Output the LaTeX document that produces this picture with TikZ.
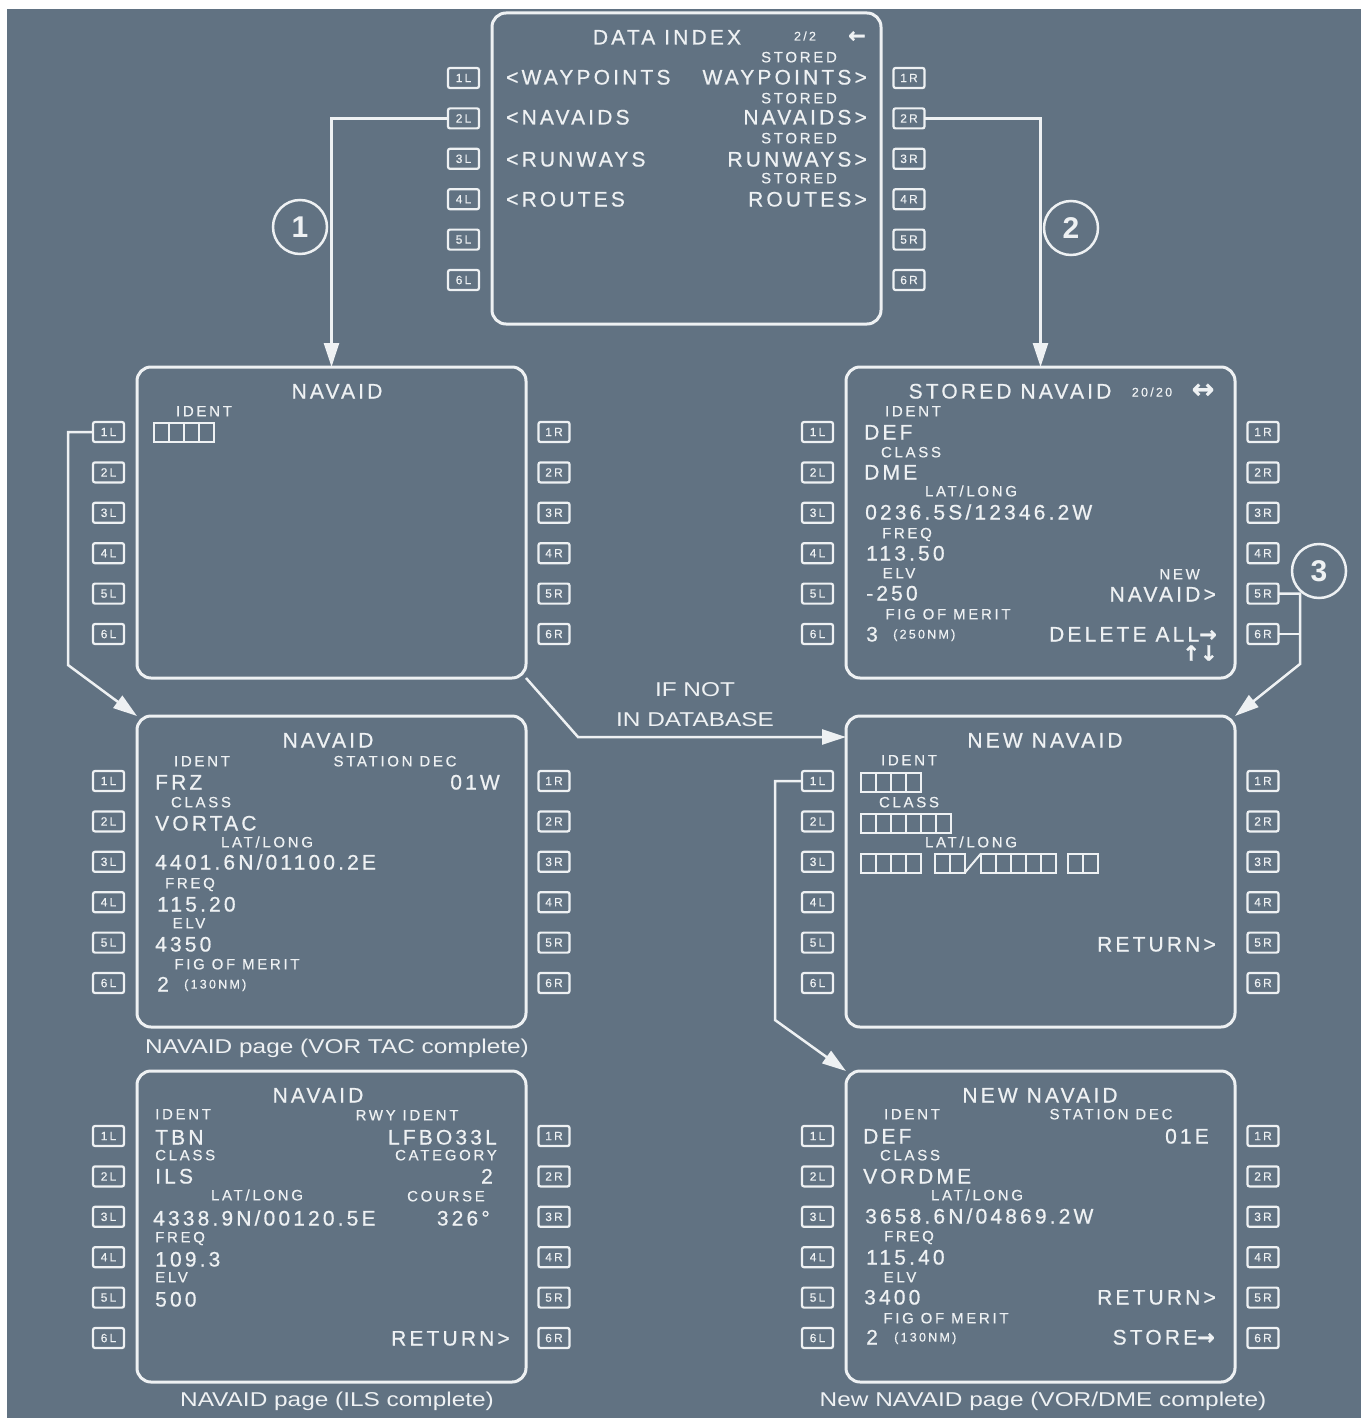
\documentclass[tikz,border=0pt]{standalone}
\usepackage{fontspec}
\usetikzlibrary{arrows.meta,calc}
\setmainfont{Liberation Sans}
\newfontfamily\cdufont[LetterSpace=15,FakeBold=0.6]{Liberation Sans}
\newfontfamily\smlfont[LetterSpace=18,FakeBold=0.5]{Liberation Sans}
\newfontfamily\capfont[FakeStretch=1.22]{Liberation Sans}
\newfontfamily\arrfont[FakeBold=1]{DejaVu Sans}
\newcommand\cdubig{\cdufont\fontsize{21}{23}\selectfont}
\newcommand\cdusml{\smlfont\fontsize{15}{17}\selectfont}
\newcommand\cdutny{\smlfont\fontsize{12.5}{14}\selectfont}
\newcommand\arr{\arrfont\bfseries\fontsize{21}{21}\selectfont}
\definecolor{bg}{HTML}{617282}
\definecolor{fg}{HTML}{EEF1F3}
\tikzset{
 screen/.style={draw=fg, line width=3pt, rounded corners=14pt, minimum width=389pt, minimum height=311pt, inner sep=0pt, outer sep=0pt},
 lsk/.style={draw=fg, line width=2.2pt, rounded corners=2pt, minimum width=31pt, minimum height=20pt, inner sep=0pt, outer sep=0pt, font=\smlfont\fontsize{12}{12}\selectfont, text=fg},
 big/.style={font=\cdubig, text=fg, inner sep=0pt, text height=15pt, text depth=0pt},
 sml/.style={font=\cdusml, text=fg, inner sep=0pt, text height=10.7pt, text depth=0pt},
 tny/.style={font=\cdutny, text=fg, inner sep=0pt, text height=9pt, text depth=0pt},
 arrw/.style={font=\arr, text=fg, inner sep=0pt},
 capt/.style={font=\capfont\fontsize{20}{22}\selectfont, text=fg, inner sep=0pt},
 conn/.style={draw=fg, line width=2.5pt, -{Triangle[length=24pt,width=15pt]}},
 link/.style={draw=fg, line width=2.5pt},
 cell/.style={draw=fg, line width=2pt},
 num/.style={circle, draw=fg, line width=2.5pt, minimum size=54pt, inner sep=0pt, text=fg, font=\bfseries\fontsize{30}{30}\selectfont},
}
\newcommand\cdubox[3]{%
 \node[screen] (#1) at (#2+194.5,#3+155.5) {};
 \foreach \k in {1,...,6}{%
   \node[lsk] (#1-L\k) at (#2-28.5,#3+65+40.4*\k-40.4) {\k L};
   \node[lsk] (#1-R\k) at (#2+417,#3+65+40.4*\k-40.4) {\k R};
 }}
\newcommand\cells[3]{%
 \foreach \j in {1,...,#3}{\draw[cell] (#1+15*\j-15,#2-9.5) rectangle ++(15,19);}}
\begin{document}
\begin{tikzpicture}[x=1pt,y=-1pt]
\path[use as bounding box] (0,0) rectangle (1361,1418);
\fill[white] (0,0) rectangle (1361,1418);
\fill[bg] (7,9) rectangle (1361,1418);

\cdubox{DI}{492}{13}
\cdubox{NV}{137}{367}
\cdubox{SN}{846}{367}
\cdubox{VT}{137}{716}
\cdubox{NN}{846}{716}
\cdubox{IL}{137}{1071}
\cdubox{NC}{846}{1071}

% DATA INDEX
\node[big] (di-t) at (667,37) {DATA INDEX};
\node[tny] (di-p) at (805,36) {2/2};
\node[arrw] (di-a) at (857,37) {←};
\node[sml] (di-s1) at (799,57) {STORED};
\node[sml] (di-s2) at (799,98) {STORED};
\node[sml] (di-s3) at (799,138) {STORED};
\node[sml] (di-s4) at (799,178) {STORED};
\node[big, anchor=west] (di-l1) at (506,77) {<WAYPOINTS};
\node[big, anchor=west] (di-l2) at (506,117) {<NAVAIDS};
\node[big, anchor=west] (di-l3) at (506,159) {<RUNWAYS};
\node[big, anchor=west] (di-l4) at (506,199) {<ROUTES};
\node[big, anchor=east] (di-r1) at (867,77) {WAYPOINTS>};
\node[big, anchor=east] (di-r2) at (867,117) {NAVAIDS>};
\node[big, anchor=east] (di-r3) at (867,159) {RUNWAYS>};
\node[big, anchor=east] (di-r4) at (867,199) {ROUTES>};

% NAVAID empty
\node[big] (nv-t) at (337,391) {NAVAID};
\node[sml] (nv-i) at (204,411) {IDENT};
\cells{154}{432}{4}

% STORED NAVAID
\node[big] (sn-t) at (1010,391) {STORED NAVAID};
\node[tny] (sn-p) at (1152,392) {20/20};
\node[arrw, font=\arrfont\bfseries\fontsize{27}{27}\selectfont] (sn-a) at (1203,391) {↔};
\node[sml] (sn-1) at (913,411) {IDENT};
\node[big, anchor=west] (sn-2) at (864,432) {DEF};
\node[sml] (sn-3) at (911,452) {CLASS};
\node[big, anchor=west] (sn-4) at (864,472) {DME};
\node[sml] (sn-5) at (971,491) {LAT/LONG};
\node[big, anchor=west] (sn-6) at (865,512) {0236.5S/12346.2W};
\node[sml] (sn-7) at (907,533) {FREQ};
\node[big, anchor=west] (sn-8) at (866,553) {113.50};
\node[sml] (sn-9) at (899,573) {ELV};
\node[big, anchor=west] (sn-10) at (866,593) {-250};
\node[sml, anchor=east] (sn-11) at (1200,574) {NEW};
\node[big, anchor=east] (sn-12) at (1216,594) {NAVAID>};
\node[sml] (sn-13) at (948,614) {FIG OF MERIT};
\node[big, anchor=west] (sn-14) at (866,634) {3};
\node[tny, anchor=west] (sn-15) at (893,634) {(250NM)};
\node[big, anchor=east] (sn-16) at (1217,634) {DELETE ALL{\arr →}};
\node[arrw] (sn-17) at (1200,653) {↑↓};

% NAVAID VORTAC
\node[big] (vt-t) at (328,740) {NAVAID};
\node[sml] (vt-1) at (202,761) {IDENT};
\node[sml] (vt-2) at (395,761) {STATION DEC};
\node[big, anchor=west] (vt-3) at (155,782) {FRZ};
\node[big, anchor=east] (vt-4) at (500,782) {01W};
\node[sml] (vt-5) at (201,802) {CLASS};
\node[big, anchor=west] (vt-6) at (155,823) {VORTAC};
\node[sml] (vt-7) at (267,842) {LAT/LONG};
\node[big, anchor=west] (vt-8) at (155,862) {4401.6N/01100.2E};
\node[sml] (vt-9) at (190,883) {FREQ};
\node[big, anchor=west] (vt-10) at (157,904) {115.20};
\node[sml] (vt-11) at (189,923) {ELV};
\node[big, anchor=west] (vt-12) at (155,944) {4350};
\node[sml] (vt-13) at (237,964) {FIG OF MERIT};
\node[big, anchor=west] (vt-14) at (157,984) {2};
\node[tny, anchor=west] (vt-15) at (184,984) {(130NM)};
\node[capt] (vt-c) at (337,1048) {NAVAID page (VOR TAC complete)};

% NEW NAVAID empty
\node[big] (nn-t) at (1045,740) {NEW NAVAID};
\node[sml] (nn-1) at (909,760) {IDENT};
\cells{861}{782}{4}
\node[sml] (nn-2) at (909,802) {CLASS};
\cells{861}{823}{6}
\node[sml] (nn-3) at (971,842) {LAT/LONG};
\cells{861}{863}{4}
\cells{935}{863}{2}
\draw[cell] (965,872.5) -- (981,853.5);
\cells{981}{863}{5}
\cells{1068}{863}{2}
\node[big, anchor=east] (nn-4) at (1216,944) {RETURN>};

% NAVAID ILS
\node[big] (il-t) at (318,1095) {NAVAID};
\node[sml, anchor=west] (il-1) at (155,1114) {IDENT};
\node[sml] (il-2) at (407,1115) {RWY IDENT};
\node[big, anchor=west] (il-3) at (155,1137) {TBN};
\node[big, anchor=east] (il-4) at (497,1137) {LFBO33L};
\node[sml, anchor=west] (il-5) at (155,1155) {CLASS};
\node[sml, anchor=east] (il-6) at (497,1155) {CATEGORY};
\node[big, anchor=west] (il-7) at (155,1176) {ILS};
\node[big, anchor=east] (il-8) at (493,1176) {2};
\node[sml] (il-9) at (257,1195) {LAT/LONG};
\node[sml] (il-10) at (446,1196) {COURSE};
\node[big, anchor=west] (il-11) at (153,1218) {4338.9N/00120.5E};
\node[big, anchor=east] (il-12) at (490,1218) {326°};
\node[sml, anchor=west] (il-13) at (155,1237) {FREQ};
\node[big, anchor=west] (il-14) at (155,1259) {109.3};
\node[sml, anchor=west] (il-15) at (155,1277) {ELV};
\node[big, anchor=west] (il-16) at (155,1299) {500};
\node[big, anchor=east] (il-17) at (510,1338) {RETURN>};
\node[capt] (il-c) at (337,1401) {NAVAID page (ILS complete)};

% NEW NAVAID complete
\node[big] (nc-t) at (1040,1095) {NEW NAVAID};
\node[sml] (nc-1) at (912,1114) {IDENT};
\node[sml] (nc-2) at (1111,1114) {STATION DEC};
\node[big, anchor=west] (nc-3) at (863,1136) {DEF};
\node[big, anchor=east] (nc-4) at (1209,1136) {01E};
\node[sml] (nc-5) at (910,1155) {CLASS};
\node[big, anchor=west] (nc-6) at (863,1176) {VORDME};
\node[sml] (nc-7) at (977,1195) {LAT/LONG};
\node[big, anchor=west] (nc-8) at (865,1216) {3658.6N/04869.2W};
\node[sml] (nc-9) at (909,1236) {FREQ};
\node[big, anchor=west] (nc-10) at (866,1257) {115.40};
\node[sml] (nc-11) at (900,1277) {ELV};
\node[big, anchor=west] (nc-12) at (864,1297) {3400};
\node[big, anchor=east] (nc-13) at (1216,1297) {RETURN>};
\node[sml] (nc-14) at (946,1318) {FIG OF MERIT};
\node[big, anchor=west] (nc-15) at (866,1337) {2};
\node[tny, anchor=west] (nc-16) at (894,1337) {(130NM)};
\node[big, anchor=east] (nc-17) at (1215,1337) {STORE{\arr →}};
\node[capt] (nc-c) at (1043,1401) {New NAVAID page (VOR/DME complete)};

% IF NOT IN DATABASE
\node[capt] (db-1) at (695,690) {IF NOT};
\node[capt] (db-2) at (695,720) {IN DATABASE};

% numbered circles
\node[num] (n1) at (300,227) {1};
\node[num] (n2) at (1071,228) {2};
\node[num] (n3) at (1319,571) {3};

% connectors
\draw[conn] (DI-L2.west) -| (NV.north);
\draw[conn] (DI-R2.east) -| (SN.north);
\coordinate (k3) at (1300,664);
\draw[conn] (SN-R5.east) -| (k3) -- (NN.north east);
\draw[link] (SN-R6.east) -- (SN-R6.east -| k3);
\coordinate (k4) at (68,665);
\draw[conn] (NV-L1.west) -| (k4) -- (VT.north west);
\coordinate (k5) at (578,737);
\draw[conn] (NV.south east) -- (k5) -- (k5 -| NN.west);
\coordinate (k6) at (775,1020);
\draw[conn] (NN-L1.west) -| (k6) -- (NC.north west);
\end{tikzpicture}
\end{document}
